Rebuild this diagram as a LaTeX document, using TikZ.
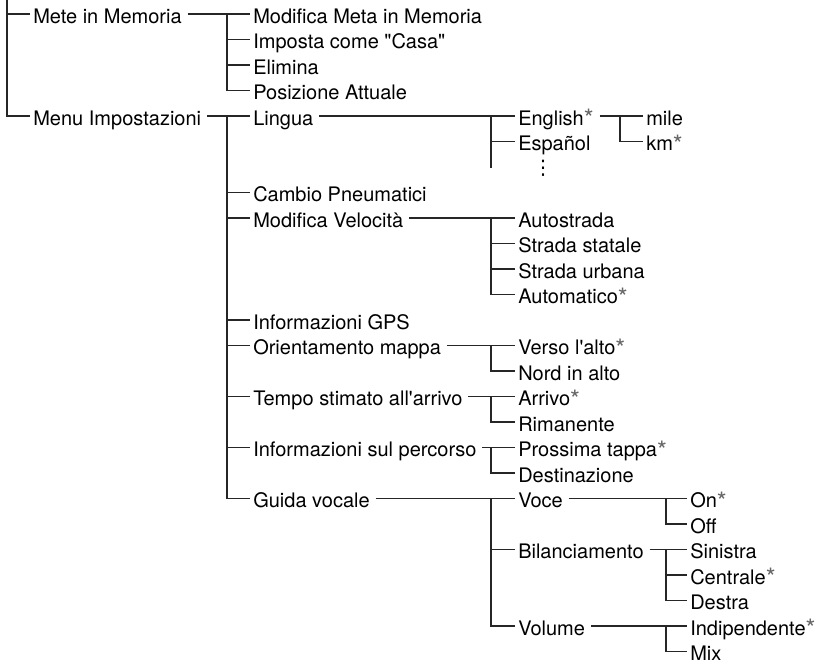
\documentclass[tikz,border=0pt]{standalone}
\usepackage{fontspec}
\setmainfont{TeX Gyre Heros}
\newfontfamily\symbfont{DejaVu Sans}
\usetikzlibrary{calc}
\newcommand{\dflt}{\textcolor{black!60}{\raisebox{-1.8pt}{\fontsize{19}{19}\selectfont *}}}
\tikzset{
    item/.style={anchor=west, inner xsep=2.25pt, inner ysep=0pt,
        text height=14pt, text depth=0pt, font=\fontsize{15}{18}\selectfont},
    branch/.style={draw=black!85, line width=1pt},
    common settings/.style={x=0.75pt, y=-19.125pt}
}

\begin{document}
\begin{tikzpicture}[common settings]

    % Frame (rows of 25.5px, x in px)
    \useasboundingbox (0,-0.549) rectangle (817,25.608);

    % Bar positions
    \coordinate (top) at (7,-0.549);
    \coordinate (b1) at (227,0);
    \coordinate (b2) at (491,0);
    \coordinate (b3) at (620,0);
    \coordinate (b4) at (666,0);

    % 1. First level
    \node[item] (mete) at (30,0) {Mete in Memoria};
    \node[item] (menu) at (30,4) {Menu Impostazioni};

    % 2. Second level
    \node[item] (modmeta) at (250,0) {Modifica Meta in Memoria};
    \node[item] (casa) at (250,1) {Imposta come \textquotedbl Casa\textquotedbl};
    \node[item] (elimina) at (250,2) {Elimina};
    \node[item] (posiz) at (250,3) {Posizione Attuale};
    \node[item] (lingua) at (250,4) {Lingua};
    \node[item] (pneum) at (250,7) {Cambio Pneumatici};
    \node[item] (veloc) at (250,8) {Modifica Velocità};
    \node[item] (gps) at (250,12) {Informazioni GPS};
    \node[item] (orient) at (250,13) {Orientamento mappa};
    \node[item] (tempo) at (250,15) {Tempo stimato all\textquotesingle arrivo};
    \node[item] (percorso) at (250,17) {Informazioni sul percorso};
    \node[item] (guida) at (250,19) {Guida vocale};

    % 3. Third level
    \node[item] (english) at (515,4) {English\dflt};
    \node[item] (espanol) at (515,5) {Español};
    \node[inner sep=0pt, font=\symbfont\fontsize{15}{18}\selectfont] (dots) at (543,6.05) {⋮};
    \node[item] (autostrada) at (515,8) {Autostrada};
    \node[item] (statale) at (515,9) {Strada statale};
    \node[item] (urbana) at (515,10) {Strada urbana};
    \node[item] (automatico) at (515,11) {Automatico\dflt};
    \node[item] (verso) at (515,13) {Verso l\textquotesingle alto\dflt};
    \node[item] (nord) at (515,14) {Nord in alto};
    \node[item] (arrivo) at (515,15) {Arrivo\dflt};
    \node[item] (rimanente) at (515,16) {Rimanente};
    \node[item] (prossima) at (515,17) {Prossima tappa\dflt};
    \node[item] (destinaz) at (515,18) {Destinazione};
    \node[item] (voce) at (515,19) {Voce};
    \node[item] (bilanc) at (515,21) {Bilanciamento};
    \node[item] (volume) at (515,24) {Volume};

    % 4. Fourth level
    \node[item] (mile) at (643,4) {mile};
    \node[item] (km) at (643,5) {km\dflt};
    \node[item] (on) at (687,19) {On\dflt};
    \node[item] (off) at (687,20) {Off};
    \node[item] (sinistra) at (687,21) {Sinistra};
    \node[item] (centrale) at (687,22) {Centrale\dflt};
    \node[item] (destra) at (687,23) {Destra};
    \node[item] (indip) at (687,24) {Indipendente\dflt};
    \node[item] (mix) at (687,25) {Mix};

    % 5. Branches
    \foreach \c in {mete,menu}
        \draw[branch] (top) |- (\c.west);

    \foreach \p/\b/\kids in {
        mete/b1/{modmeta,casa,elimina,posiz},
        menu/b1/{lingua,pneum,veloc,gps,orient,tempo,percorso,guida},
        lingua/b2/{english,espanol},
        veloc/b2/{autostrada,statale,urbana,automatico},
        orient/b2/{verso,nord},
        tempo/b2/{arrivo,rimanente},
        percorso/b2/{prossima,destinaz},
        guida/b2/{voce,bilanc,volume},
        english/b3/{mile,km},
        voce/b4/{on,off},
        bilanc/b4/{sinistra,centrale,destra},
        volume/b4/{indip,mix}} {
        \draw[branch, shorten <=2pt] (\p.east) -- (\p.east -| \b);
        \foreach \c in \kids
            \draw[branch] (\p.east -| \b) |- (\c.west);
    }

    % open end of the language list
    \draw[branch] (lingua.east -| b2) -- (dots -| b2);

\end{tikzpicture}
\end{document}
